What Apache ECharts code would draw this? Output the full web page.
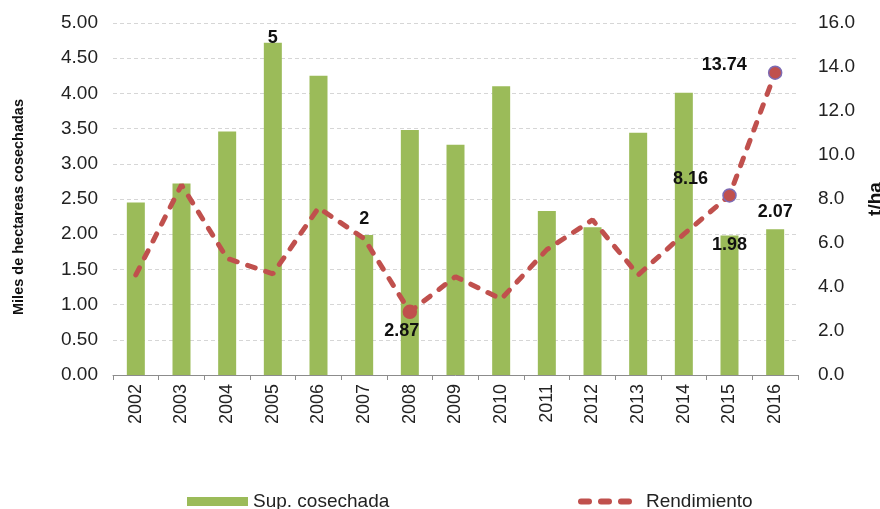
<!DOCTYPE html>
<html>
<head>
<meta charset="utf-8">
<script src="https://cdn.jsdelivr.net/npm/echarts@6/dist/echarts.min.js"></script>
<style>
  html, body { margin: 0; padding: 0; background: #fff; }
  #chart { width: 880px; height: 509px; }
</style>
</head>
<body>
<div id="chart"></div>
<script>
// years on the x axis
const years = ['2002', '2003', '2004', '2005', '2006', '2007', '2008', '2009',
  '2010', '2011', '2012', '2013', '2014', '2015', '2016']
// Sup. cosechada (miles de hectareas)
const supCosechada = [2.45, 2.72, 3.46, 4.72, 4.25, 1.99, 3.48, 3.27, 4.10, 2.33, 2.10, 3.44, 4.01, 1.98, 2.07]
const supLabels = ['', '', '', '5', '', '2', '', '', '', '', '', '', '', '1.98', '2.07']
// Rendimiento (t/ha)
const rendimiento = [4.55, 8.64, 5.30, 4.60, 7.60, 6.20, 2.87, 4.47, 3.45, 5.70, 7.05, 4.55, 6.40, 8.16, 13.74]
const rendLabels = ['', '', '', '', '', '', '2.87', '', '', '', '', '', '', '8.16', '13.74']

const green = '#9bbb59'
const red = '#c0504d'
const textFont = 'Liberation Sans, Arial, sans-serif'

// where each printed value sits relative to its mark
const barLabelOffset = {
  '2005': [0, 4],
  '2007': [0, -7],
  '2015': [0, 18],
  '2016': [0, -8]
}
const lineLabelOffset = {
  '2008': [-8, 19],
  '2015': [-39, -16],
  '2016': [-51, -8]
}

const valueLabel = {
  show: true,
  color: '#111',
  fontWeight: 'bold',
  fontSize: 18,
  fontFamily: textFont
}

const barData = supCosechada.map((v, i) => {
  if (!supLabels[i]) return v
  return {
    value: v,
    label: Object.assign({}, valueLabel, {
      position: 'top',
      distance: 0,
      formatter: supLabels[i],
      offset: barLabelOffset[years[i]]
    })
  }
})

const lineData = rendimiento.map((v, i) => {
  if (!rendLabels[i]) return v
  return {
    value: v,
    symbol: 'circle',
    symbolSize: 13,
    itemStyle: {
      color: red,
      borderColor: years[i] === '2008' ? red : '#7e6bb3',
      borderWidth: 1.5
    },
    label: Object.assign({}, valueLabel, {
      position: 'inside',
      formatter: rendLabels[i],
      offset: lineLabelOffset[years[i]]
    })
  }
})

const chart = echarts.init(document.getElementById('chart'))
chart.setOption({
  animation: false,
  textStyle: { fontFamily: textFont },
  grid: {
    left: 113,
    right: 82,
    top: 23,
    bottom: 134,
    outerBoundsMode: 'none'
  },
  legend: [
    {
      left: 182,
      top: 487,
      icon: 'rect',
      itemWidth: 61,
      itemHeight: 9,
      textStyle: { fontSize: 19, color: '#222', fontFamily: textFont },
      data: ['Sup. cosechada']
    },
    {
      left: 573,
      top: 487,
      // three short dashes, like the line
      icon: 'path://M3,0H11A3,3 0 0 1 11,6H3A3,3 0 0 1 3,0Z M23,0H31A3,3 0 0 1 31,6H23A3,3 0 0 1 23,0Z M43,0H51A3,3 0 0 1 51,6H43A3,3 0 0 1 43,0Z',
      itemWidth: 58,
      itemHeight: 6,
      textStyle: {
        fontSize: 19,
        color: '#222',
        fontFamily: textFont,
        padding: [0, 0, 0, 7]
      },
      data: ['Rendimiento']
    }
  ],
  xAxis: {
    type: 'category',
    data: years,
    axisLine: {
      lineStyle: { color: '#8c8c8c', width: 1 }
    },
    axisTick: {
      show: true,
      length: 5,
      lineStyle: { color: '#8c8c8c' }
    },
    axisLabel: {
      rotate: 90,
      margin: 9,
      fontSize: 18,
      color: '#222',
      fontFamily: textFont
    }
  },
  yAxis: [
    {
      type: 'value',
      min: 0,
      max: 5,
      interval: 0.5,
      name: 'Miles de hectareas cosechadas',
      nameLocation: 'middle',
      nameRotate: 90,
      nameGap: 87,
      nameTextStyle: {
        fontSize: 14.5,
        fontWeight: 'bold',
        color: '#111',
        fontFamily: textFont,
        padding: [0, 16, 0, 0]
      },
      axisLine: { show: false },
      axisTick: { show: false },
      axisLabel: {
        margin: 15,
        fontSize: 19,
        color: '#222',
        formatter: v => v.toFixed(2)
      },
      splitLine: {
        lineStyle: { color: '#d6d6d6', type: [4, 3], width: 1 }
      }
    },
    {
      type: 'value',
      min: 0,
      max: 16,
      interval: 2,
      name: 't/ha',
      nameLocation: 'middle',
      nameRotate: 90,
      nameGap: 64,
      nameTextStyle: {
        fontSize: 19,
        fontWeight: 'bold',
        color: '#111',
        fontFamily: textFont
      },
      axisLine: { show: false },
      axisTick: { show: false },
      axisLabel: {
        margin: 20,
        fontSize: 19,
        color: '#222',
        formatter: v => v.toFixed(1)
      },
      splitLine: { show: false }
    }
  ],
  series: [
    {
      name: 'Sup. cosechada',
      type: 'bar',
      yAxisIndex: 0,
      barWidth: 18,
      itemStyle: { color: green },
      data: barData
    },
    {
      name: 'Rendimiento',
      type: 'line',
      yAxisIndex: 1,
      symbol: 'none',
      z: 5,
      itemStyle: { color: red },
      lineStyle: { color: red, width: 5, type: [8, 11], cap: 'round' },
      data: lineData
    }
  ]
})
</script>
</body>
</html>
